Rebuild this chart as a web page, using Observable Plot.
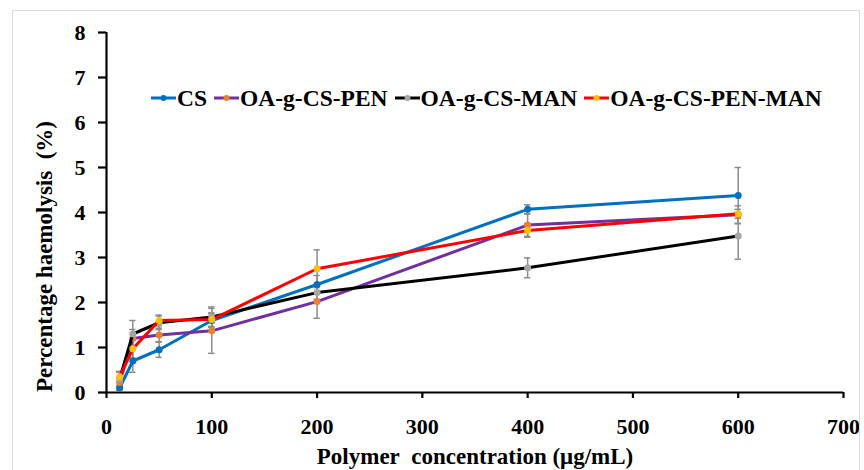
<!DOCTYPE html>
<html>
<head>
<meta charset="utf-8">
<script src="https://cdn.jsdelivr.net/npm/d3@7"></script>
<script src="https://cdn.jsdelivr.net/npm/@observablehq/plot@0.6"></script>
<style>
  body { margin: 0; background: #fff; }
  #wrap { position: relative; width: 864px; height: 470px; overflow: hidden; font-family: "Liberation Serif", serif; }
  #border { position: absolute; left: 12px; top: 10px; width: 848px; height: 480px; border: 1px solid #dcdcdc; box-sizing: border-box; pointer-events: none; }
  #legend { position: absolute; left: 151px; top: 85px; display: flex; align-items: center; font-weight: bold; font-size: 23.5px; color: #000; white-space: nowrap; line-height: 26px; }
  #legend .item { display: flex; align-items: center; margin-right: 7px; }
  #legend svg { margin-right: 1px; }
</style>
</head>
<body>
<div id="wrap"><div id="border"></div><div id="legend"></div></div>
<script>
const conc = [12.5, 25, 50, 100, 200, 400, 600];
const seriesNames = ["CS", "OA-g-CS-PEN", "OA-g-CS-MAN", "OA-g-CS-PEN-MAN"];
const lineColors = ["#0070C0", "#7030A0", "#000000", "#FF0000"];
const markerColors = ["#0070C0", "#ED7D31", "#A5A5A5", "#FFC000"];
const cs        = [0.10, 0.70, 0.95, 1.60, 2.40, 4.07, 4.38];
const csErr     = [0.05, 0.25, 0.17, 0.15, 0.20, 0.10, 0.62];
const pen       = [0.22, 1.20, 1.28, 1.37, 2.02, 3.72, 3.95];
const penErr    = [0.10, 0.20, 0.15, 0.50, 0.37, 0.25, 0.20];
const man       = [0.30, 1.30, 1.55, 1.68, 2.22, 2.77, 3.48];
const manErr    = [0.15, 0.30, 0.15, 0.22, 0.15, 0.22, 0.52];
const penMan    = [0.35, 0.97, 1.60, 1.62, 2.75, 3.60, 3.97];
const penManErr = [0.12, 0.20, 0.12, 0.15, 0.42, 0.15, 0.10];
const xTicks = [0, 100, 200, 300, 400, 500, 600, 700];
const yTicks = [0, 1, 2, 3, 4, 5, 6, 7, 8];
const xTitle = "Polymer\u00a0 concentration (μg/mL)";
const yTitle = "Percentage haemolysis\u00a0 (%)";

const values = [cs, pen, man, penMan];
const errs = [csErr, penErr, manErr, penManErr];
const data = [];
seriesNames.forEach((s, i) => conc.forEach((c, j) => data.push({series: s, idx: i, x: c, y: values[i][j], e: errs[i][j]})));

const font = "Liberation Serif";
const marks = [
  Plot.ruleY([0], {stroke: "#000", strokeWidth: 2.2}),
  Plot.ruleX([0], {y1: 0, y2: 8, stroke: "#000", strokeWidth: 2.2}),
  Plot.axisX(xTicks, {tickSize: 6, tickPadding: 20, fontSize: 22, fontWeight: "bold", fontFamily: font,
    strokeWidth: 2.2, label: null}),
  Plot.axisY(yTicks, {tickSize: 8, tickPadding: 13, fontSize: 22, fontWeight: "bold", fontFamily: font,
    strokeWidth: 2.2, label: null}),
  Plot.text([xTitle], {frameAnchor: "bottom", dy: 64, textAnchor: "middle", lineAnchor: "middle", fontSize: 23, fontWeight: "bold", fontFamily: font, fill: "#000"}),
  Plot.text([yTitle], {frameAnchor: "left", rotate: -90, dx: -62, dy: 44, textAnchor: "middle", lineAnchor: "middle", fontSize: 23, fontWeight: "bold", fontFamily: font, fill: "#000"}),
];
seriesNames.forEach((s, i) => {
  const d = data.filter(r => r.idx === i);
  marks.push(Plot.ruleX(d, {x: "x", y1: r => r.y - r.e, y2: r => r.y + r.e, stroke: "#8c8c8c", strokeWidth: 1.5}));
  marks.push(Plot.ruleY(d, {y: r => r.y - r.e, x1: r => r.x - 3, x2: r => r.x + 3, stroke: "#8c8c8c", strokeWidth: 1.5}));
  marks.push(Plot.ruleY(d, {y: r => r.y + r.e, x1: r => r.x - 3, x2: r => r.x + 3, stroke: "#8c8c8c", strokeWidth: 1.5}));
});
seriesNames.forEach((s, i) => {
  const d = data.filter(r => r.idx === i);
  marks.push(Plot.line(d, {x: "x", y: "y", stroke: lineColors[i], strokeWidth: 3}));
  marks.push(Plot.dot(d, {x: "x", y: "y", fill: markerColors[i], r: 3.5}));
});

const chart = Plot.plot({
  width: 864, height: 470,
  marginLeft: 106, marginRight: 21, marginTop: 32, marginBottom: 78,
  style: {fontFamily: font, color: "#000", background: "transparent", overflow: "visible"},
  x: {domain: [0, 700]},
  y: {domain: [0, 8]},
  marks
});
chart.style.position = "absolute";
chart.style.left = "0px";
chart.style.top = "0px";
const wrap = document.getElementById("wrap");
wrap.insertBefore(chart, wrap.firstChild);

const legend = document.getElementById("legend");
seriesNames.forEach((s, i) => {
  const item = document.createElement("div");
  item.className = "item";
  item.innerHTML = `<svg width="25" height="10"><line x1="0" x2="25" y1="5" y2="5" stroke="${lineColors[i]}" stroke-width="3"/><circle cx="12.5" cy="5" r="3" fill="${markerColors[i]}"/></svg><span>${s}</span>`;
  legend.appendChild(item);
});
</script>
</body>
</html>
